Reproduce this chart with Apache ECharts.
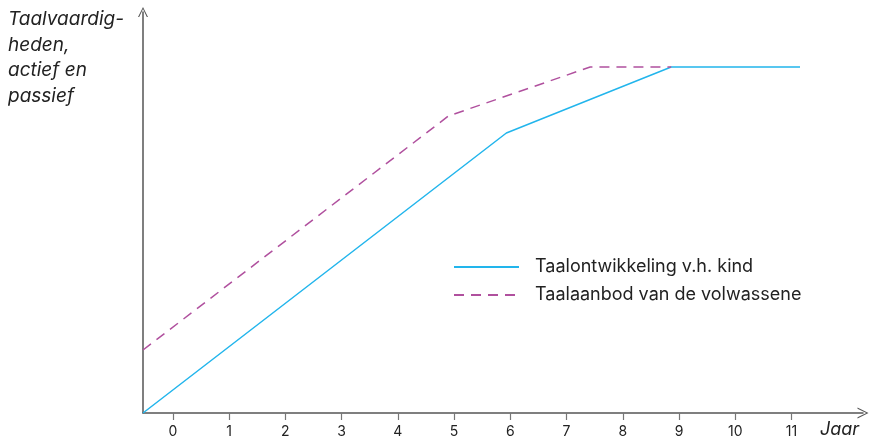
<!DOCTYPE html>
<html><head><meta charset="utf-8">
<script src="https://cdn.jsdelivr.net/npm/echarts@6/dist/echarts.min.js"></script>
<style>html,body{margin:0;padding:0;background:#fff}#c{width:869px;height:442px}</style>
</head><body><div id="c"></div>
<script>
const xTicks = [0,1,2,3,4,5,6,7,8,9,10,11];
const kindX = [-0.53, 5.93, 8.86, 11.15];
const kindY = [0, 280, 346, 346];
const volwX = [-0.53, 4.9, 7.42, 8.86];
const volwY = [63, 297, 346, 346];
const seriesNames = ['Taalontwikkeling v.h. kind', 'Taalaanbod van de volwassene'];
const yTitle = 'Taalvaardig-\nheden,\nactief en\npassief';
const xTitle = 'Jaar';

const chev = 'path://M0,10 L5,0 L10,10 L8.8,10 L5,2 L1.2,10 Z';
const FONT = 'Inter, "Noto Sans", sans-serif';
const chart = echarts.init(document.getElementById('c'));
chart.setOption({
  animation: false,
  grid: {left: 143, right: 6, top: 12, bottom: 29, containLabel: false},
  xAxis: {
    type: 'value', min: -0.53, max: 12.27,
    splitLine: {show: false},
    axisLine: {onZero: false, lineStyle: {color: '#555', width: 1.5}, symbol: ['none', chev], symbolSize: [17, 11]},
    axisTick: {show: true, length: 7, lineStyle: {color: '#777', width: 1.2}, customValues: xTicks},
    axisLabel: {customValues: xTicks, color: '#222', fontSize: 14, fontFamily: FONT, margin: 12}
  },
  yAxis: {
    type: 'value', min: 0, max: 401,
    splitLine: {show: false},
    axisLine: {show: true, onZero: false, lineStyle: {color: '#555', width: 1.5}, symbol: ['none', chev], symbolSize: [16, 10]},
    axisTick: {show: false},
    axisLabel: {show: false}
  },
  legend: {
    orient: 'vertical', left: 453, top: 258, padding: 0, itemWidth: 65, itemHeight: 14, itemGap: 10,
    itemStyle: {opacity: 0},
    textStyle: {color: '#222', fontSize: 18, fontFamily: FONT, padding: [0, 0, 0, 11]},
    data: seriesNames
  },
  series: [
    {name: seriesNames[0], type: 'line', symbol: 'none', clip: false,
     lineStyle: {color: '#22b5ec', width: 1.5}, itemStyle: {color: '#22b5ec'},
     data: kindX.map((x, i) => [x, kindY[i]])},
    {name: seriesNames[1], type: 'line', symbol: 'none', clip: false,
     lineStyle: {color: '#b0509e', width: 1.5, type: [10, 7]}, itemStyle: {color: '#b0509e'},
     data: volwX.map((x, i) => [x, volwY[i]])}
  ],
  graphic: [
    {type: 'text', left: 8, top: 7, style: {text: yTitle, fill: '#222', font: 'italic 19px ' + FONT, lineHeight: 25.5}},
    {type: 'text', left: 820, top: 421, style: {text: xTitle, fill: '#222', font: 'italic 18px ' + FONT}}
  ]
});
</script></body></html>
